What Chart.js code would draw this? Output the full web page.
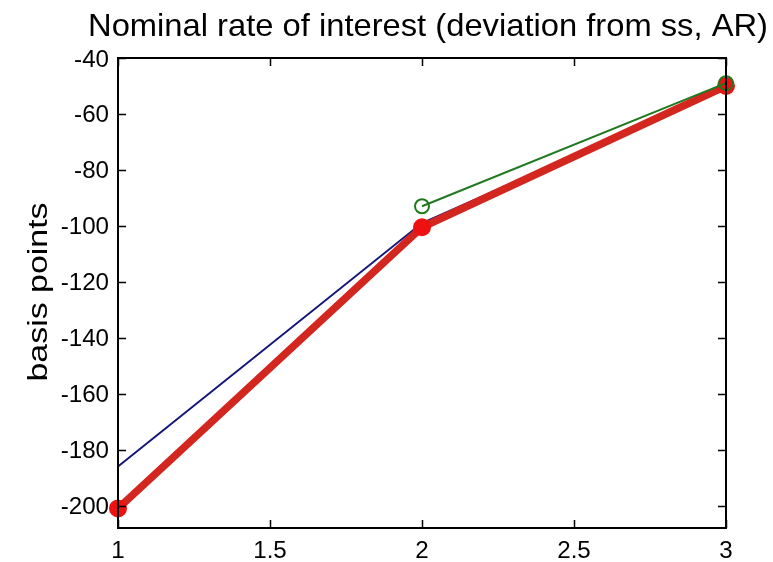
<!DOCTYPE html>
<html><head><meta charset="utf-8">
<script src="https://cdn.jsdelivr.net/npm/chart.js@4"></script>
<style>html,body{margin:0;padding:0;background:#fff}#c{display:block}</style>
</head><body>
<canvas id="c" width="773" height="562"></canvas>
<script>
const titleText = "Nominal rate of interest (deviation from ss, AR)";
const yLabel = "basis points";
const xTicks = [1, 1.5, 2, 2.5, 3];
const yTicks = [-200, -180, -160, -140, -120, -100, -80, -60, -40];
const blueX = [1, 2, 3];
const blueY = [-186, -99, -51];
const greenX = [2, 3];
const greenY = [-93, -49];
const redX = [1, 2, 3];
const redY = [-201, -100.5, -50];

const pts = (xs, ys) => xs.map((x, i) => ({x, y: ys[i]}));
const FONT = "'Liberation Sans', Arial, Helvetica, sans-serif";

function stretchedText(ctx, txt, x, y, size, sx, align) {
  ctx.save();
  ctx.font = size + 'px ' + FONT;
  const w = ctx.measureText(txt).width * sx;
  let x0 = x;
  if (align === 'center') x0 = x - w / 2;
  else if (align === 'right') x0 = x - w;
  ctx.translate(x0, y);
  ctx.scale(sx, 1);
  ctx.textAlign = 'left';
  ctx.fillText(txt, 0, 0);
  ctx.restore();
}

const frame = {
  id: 'frame',
  afterDraw(chart) {
    const {ctx, chartArea: a, scales} = chart;
    ctx.save();
    ctx.strokeStyle = '#000';
    ctx.lineWidth = 2;
    ctx.strokeRect(a.left, a.top, a.right - a.left, a.bottom - a.top);
    ctx.lineWidth = 1.5;
    const L = 8;
    ctx.beginPath();
    yTicks.forEach(v => {
      const y = Math.round(scales.y.getPixelForValue(v)) + 0.5;
      ctx.moveTo(a.left, y); ctx.lineTo(a.left + L, y);
      ctx.moveTo(a.right, y); ctx.lineTo(a.right - L, y);
    });
    xTicks.forEach(v => {
      const x = Math.round(scales.x.getPixelForValue(v)) + 0.5;
      ctx.moveTo(x, a.bottom); ctx.lineTo(x, a.bottom - L);
      ctx.moveTo(x, a.top); ctx.lineTo(x, a.top + L);
    });
    ctx.stroke();
    ctx.fillStyle = '#000';
    ctx.textBaseline = 'alphabetic';
    yTicks.forEach(v => {
      const y = scales.y.getPixelForValue(v);
      stretchedText(ctx, String(v), a.left - 9, y + 8.5, 23, 1.05, 'right');
    });
    xTicks.forEach(v => {
      const x = scales.x.getPixelForValue(v);
      stretchedText(ctx, String(v), x, a.bottom + 30, 23, 1.05, 'center');
    });
    ctx.font = '32px ' + FONT;
    const tw = ctx.measureText(titleText).width;
    stretchedText(ctx, titleText, 428, 36, 32, 680 / tw, 'center');
    ctx.save();
    ctx.translate(47, 292);
    ctx.rotate(-Math.PI / 2);
    ctx.font = '27px ' + FONT;
    const lw = ctx.measureText(yLabel).width;
    stretchedText(ctx, yLabel, 0, 0, 27, 179 / lw, 'center');
    ctx.restore();
    ctx.restore();
  }
};

new Chart(document.getElementById('c'), {
  type: 'scatter',
  data: {
    datasets: [
      {data: pts(blueX, blueY), showLine: true, borderColor: '#17177a', borderWidth: 2, pointRadius: 0, clip: false, order: 3},
      {data: pts(redX, redY), showLine: true, borderColor: '#d2261f', borderWidth: 7.5, pointRadius: 9, pointBackgroundColor: '#ee1111', pointBorderColor: '#ee1111', pointBorderWidth: 0, clip: false, order: 2},
      {data: pts(greenX, greenY), showLine: true, borderColor: '#1f7a1f', borderWidth: 2, pointRadius: 7, pointBackgroundColor: 'rgba(0,0,0,0)', pointBorderColor: '#1f7a1f', pointBorderWidth: 2, clip: false, order: 1}
    ]
  },
  options: {
    responsive: false,
    animation: false,
    layout: {padding: {top: 58, right: 47, left: 0, bottom: 0}},
    plugins: {legend: {display: false}, tooltip: {enabled: false}, title: {display: false}},
    scales: {
      x: {
        type: 'linear', min: 1, max: 3,
        afterBuildTicks: s => { s.ticks = xTicks.map(v => ({value: v})); },
        afterFit: s => { s.height = 34; },
        grid: {display: false, drawTicks: false},
        border: {display: false},
        ticks: {display: false}
      },
      y: {
        type: 'linear', min: -208, max: -40,
        afterBuildTicks: s => { s.ticks = yTicks.map(v => ({value: v})); },
        afterFit: s => { s.width = 118; },
        grid: {display: false, drawTicks: false},
        border: {display: false},
        ticks: {display: false}
      }
    }
  },
  plugins: [frame]
});
</script>
</body></html>
